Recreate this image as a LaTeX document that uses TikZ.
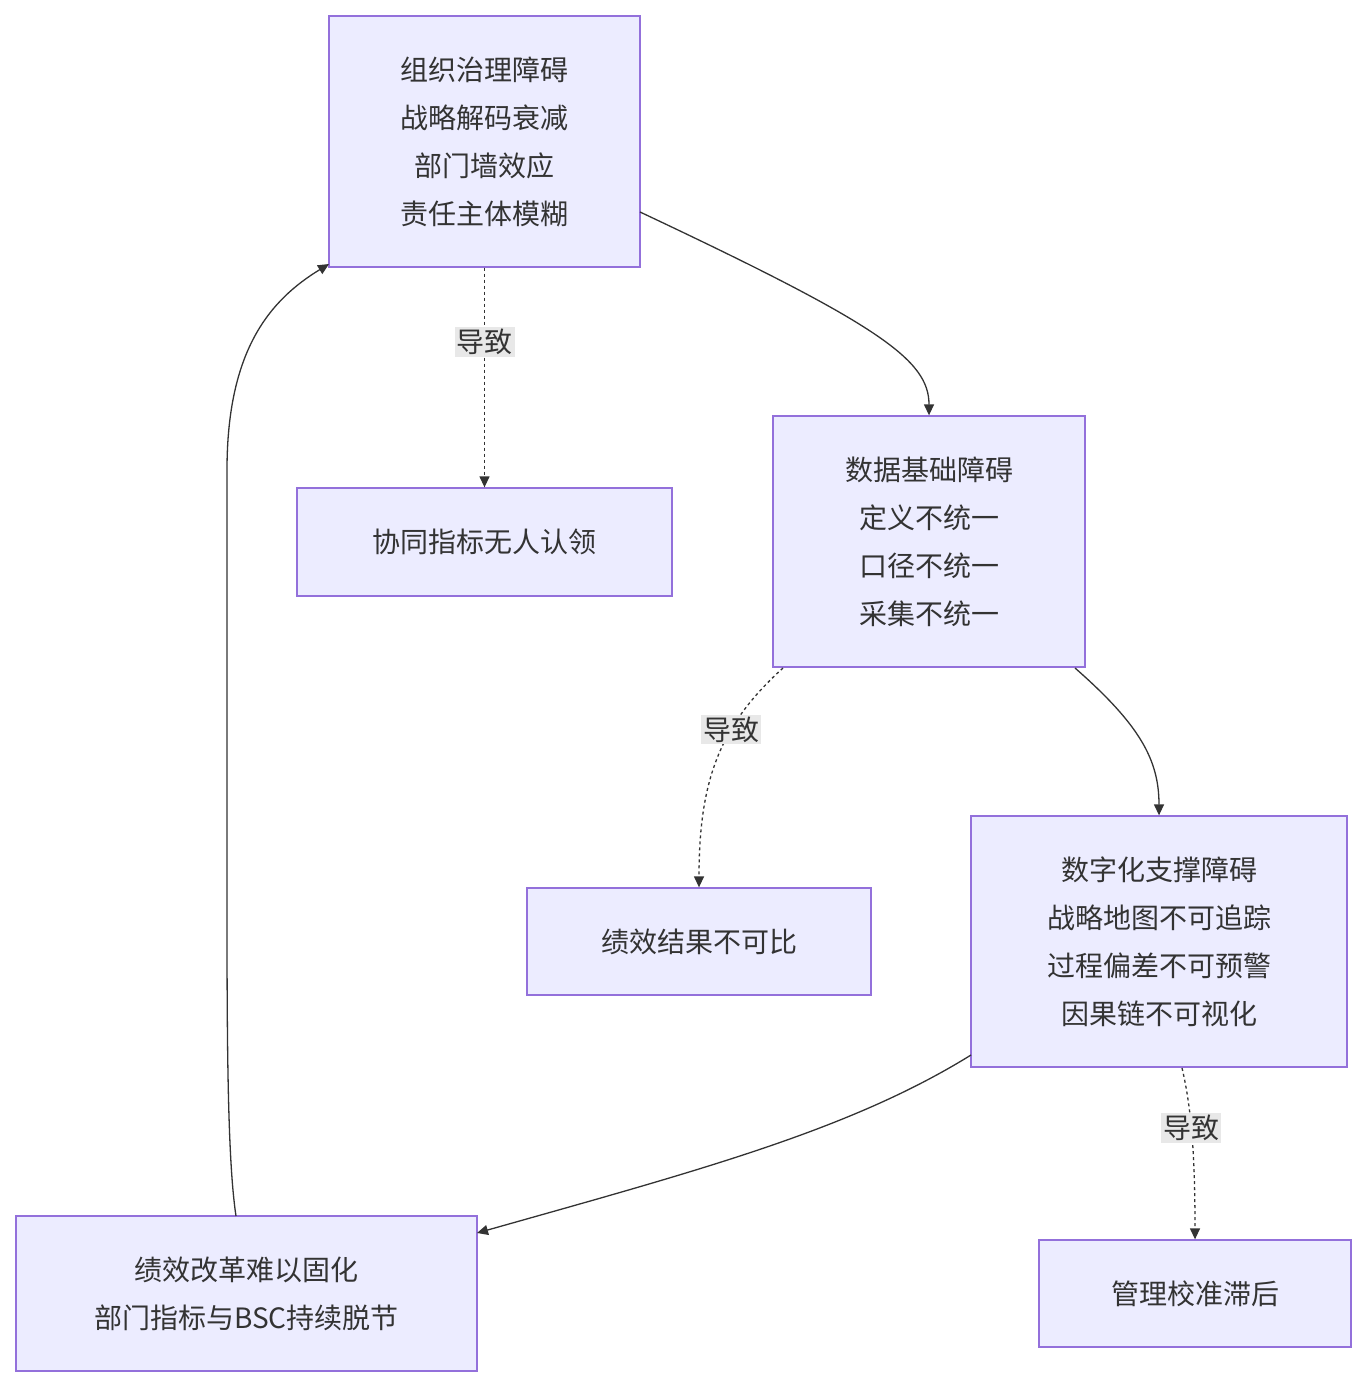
\documentclass[tikz,border=0pt]{standalone}
\usepackage{fontspec}
\setmainfont{Noto Sans CJK SC}
\usetikzlibrary{arrows.meta}
\definecolor{nodefill}{HTML}{ECECFF}
\definecolor{nodeline}{HTML}{9370DB}
\definecolor{edge}{HTML}{333333}
\definecolor{lblbg}{HTML}{E8E8E8}
\begin{document}
\begin{tikzpicture}[x=1pt,y=-1pt,
  box/.style={draw=nodeline,fill=nodefill,line width=1.3pt,align=center,inner sep=0pt,font=\fontsize{28}{48}\selectfont,text=edge},
  conn/.style={draw=edge,line width=1.3pt,-{Triangle[length=11pt,width=10pt]}},
  dot/.style={conn,dash pattern=on 3pt off 3pt},
  lbl/.style={fill=lblbg,font=\fontsize{28}{34}\selectfont,text=edge,inner sep=2pt}]
\useasboundingbox (0,0) rectangle (1366,1388);
\node[box,minimum width=311pt,minimum height=251pt] (A) at (484.5,141.5) {组织治理障碍\\战略解码衰减\\部门墙效应\\责任主体模糊};
\node[box,minimum width=375pt,minimum height=108pt] (B) at (484.5,542) {协同指标无人认领};
\node[box,minimum width=312pt,minimum height=251pt] (C) at (929,541.5) {数据基础障碍\\定义不统一\\口径不统一\\采集不统一};
\node[box,minimum width=344pt,minimum height=107pt] (D) at (699,941.5) {绩效结果不可比};
\node[box,minimum width=376pt,minimum height=251pt] (E) at (1159,941.5) {数字化支撑障碍\\战略地图不可追踪\\过程偏差不可预警\\因果链不可视化};
\node[box,minimum width=312pt,minimum height=107pt] (F) at (1195,1293.5) {管理校准滞后};
\node[box,minimum width=461pt,minimum height=155pt] (G) at (246.5,1293.5) {绩效改革难以固化\\部门指标与BSC持续脱节};
\coordinate (a1) at (640,212);
\draw[conn] (a1) .. controls (880,325) and (929,360) .. (C.north);
\draw[dot] (A.south) -- node[lbl,pos=0.34]{导致} (B.north);
\coordinate (c1) at (783,668);
\draw[dot] (c1) .. controls (720,725) and (699,780) .. node[lbl,pos=0.35]{导致} (D.north);
\coordinate (c2) at (1075,668);
\draw[conn] (c2) .. controls (1140,725) and (1159,760) .. (E.north);
\coordinate (e1) at (971,1055);
\coordinate (g1) at (477,1233);
\draw[conn] (e1) .. controls (850,1130) and (700,1170) .. (g1);
\coordinate (e2) at (1182,1068);
\draw[dot] (e2) .. controls (1192,1110) and (1195,1160) .. node[lbl,pos=0.43]{导致} (F.north);
\coordinate (g2) at (236,1216);
\coordinate (a2) at (329,264);
\draw[conn] (g2) .. controls (226,1150) and (227,1000) .. (227,800) -- (227,470) .. controls (227,350) and (270,300) .. (a2);
\end{tikzpicture}
\end{document}
